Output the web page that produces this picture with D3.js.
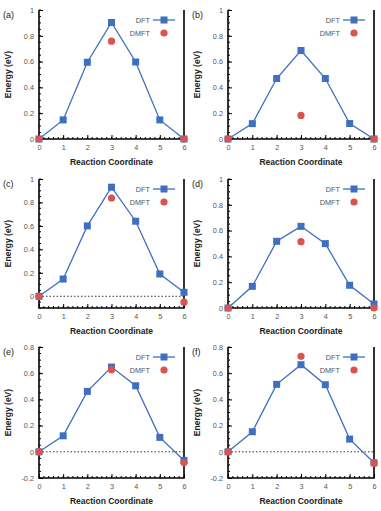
<!DOCTYPE html>
<html>
<head>
<meta charset="utf-8">
<script src="https://cdn.jsdelivr.net/npm/d3@7"></script>
<style>
body { margin: 0; background: #fff; }
svg text { font-family: "Liberation Sans", Arial, sans-serif; }
</style>
</head>
<body>
<div id="chart"></div>
<script>
// data
var coords = [0, 1, 2, 3, 4, 5, 6];
var panelLabels = ["(a)", "(b)", "(c)", "(d)", "(e)", "(f)"];
var dftA = [0, 0.148, 0.595, 0.903, 0.597, 0.148, 0];
var dftB = [0, 0.119, 0.469, 0.686, 0.469, 0.12, 0];
var dftC = [0, 0.147, 0.6, 0.93, 0.64, 0.19, 0.034];
var dftD = [0, 0.168, 0.517, 0.633, 0.499, 0.176, 0.031];
var dftE = [0, 0.122, 0.461, 0.647, 0.504, 0.11, -0.066];
var dftF = [0, 0.153, 0.515, 0.665, 0.512, 0.097, -0.084];
var dmftX = [0, 3, 6];
var dmftA = [0, 0.758, 0];
var dmftB = [0, 0.183, 0];
var dmftC = [0, 0.838, -0.05];
var dmftD = [0, 0.514, 0];
var dmftE = [0, 0.627, -0.082];
var dmftF = [0, 0.729, -0.087];
var yDomains = [[0, 1], [0, 1], [-0.1, 1], [0, 1], [-0.2, 0.8], [-0.2, 0.8]];
var zeroLine = [false, false, true, false, true, true];

var dftAll = [dftA, dftB, dftC, dftD, dftE, dftF];
var dmftAll = [dmftA, dmftB, dmftC, dmftD, dmftE, dmftF];

var blue = "#3f6fbf", red = "#d9534f";
var W = 381, H = 511;
var colX = [[39, 184], [228, 374]];
var rowY = [[10, 139], [179, 308], [347, 478]];

var svg = d3.select("#chart").append("svg")
    .attr("width", W).attr("height", H);

function fmt(d) { return String(+d.toFixed(1)); }

for (let i = 0; i < 6; i++) {
    let col = i % 2, row = Math.floor(i / 2);
    let x = d3.scaleLinear().domain([0, 6]).range(colX[col]);
    let y = d3.scaleLinear().domain(yDomains[i]).range([rowY[row][1], rowY[row][0]]);
    let g = svg.append("g");
    let x0 = colX[col][0], x1 = colX[col][1];
    let yb = rowY[row][1], yt = rowY[row][0];

    // minor ticks
    let xMinor = d3.range(0, 6.001, 0.2);
    g.selectAll(".xm").data(xMinor).enter().append("line")
        .attr("x1", d => x(d)).attr("x2", d => x(d))
        .attr("y1", yb).attr("y2", yb - 2)
        .attr("stroke", "#000").attr("stroke-width", 1);
    let yd = yDomains[i];
    let yMinor = d3.range(Math.round(yd[0] * 20), Math.round(yd[1] * 20) + 1).map(v => v / 20);
    g.selectAll(".ym").data(yMinor).enter().append("line")
        .attr("x1", x0).attr("x2", x0 + 2)
        .attr("y1", d => y(d)).attr("y2", d => y(d))
        .attr("stroke", "#000").attr("stroke-width", 1);

    // axes
    let xAxis = d3.axisBottom(x).tickValues(coords).tickSize(-4).tickPadding(6).tickFormat(d3.format("d"));
    let yTicks = d3.range(Math.ceil(yd[0] * 5 - 1e-9), Math.floor(yd[1] * 5 + 1e-9) + 1).map(v => v / 5);
    let yAxis = d3.axisLeft(y).tickValues(yTicks).tickSize(-4).tickPadding(5).tickFormat(fmt);
    let gx = g.append("g").attr("transform", "translate(0," + yb + ")").call(xAxis);
    let gy = g.append("g").attr("transform", "translate(" + x0 + ",0)").call(yAxis);
    [gx, gy].forEach(function (a) {
        a.select(".domain").remove();
        a.selectAll(".tick line").attr("stroke", "#000").attr("stroke-width", 1);
        a.selectAll("text").attr("font-size", 7.3).attr("fill", "#555");
    });

    // frame: left, bottom, right
    g.append("path")
        .attr("d", "M" + x0 + "," + yt + "V" + yb + "H" + x1 + "V" + yt)
        .attr("fill", "none").attr("stroke", "#000").attr("stroke-width", 1.6);

    if (zeroLine[i]) {
        g.append("line")
            .attr("x1", x(0)).attr("x2", x(6))
            .attr("y1", y(0)).attr("y2", y(0))
            .attr("stroke", "#333").attr("stroke-width", 1)
            .attr("stroke-dasharray", "1.5,2");
    }

    // DFT line + squares
    let pts = coords.map((c, k) => [c, dftAll[i][k]]);
    g.append("path").datum(pts)
        .attr("d", d3.line().x(d => x(d[0])).y(d => y(d[1])))
        .attr("fill", "none").attr("stroke", blue).attr("stroke-width", 1.3);
    g.selectAll(".sq").data(pts).enter().append("rect")
        .attr("x", d => x(d[0]) - 3.5).attr("y", d => y(d[1]) - 3.5)
        .attr("width", 7).attr("height", 7).attr("fill", blue);

    // DMFT circles
    g.selectAll(".ci").data(dmftX.map((c, k) => [c, dmftAll[i][k]])).enter().append("circle")
        .attr("cx", d => x(d[0])).attr("cy", d => y(d[1]))
        .attr("r", 3.6).attr("fill", red);

    // legend
    let lx = x1 - 34, ly = yt + 10;
    g.append("text").attr("x", lx).attr("y", ly + 2.5).attr("text-anchor", "end")
        .attr("font-size", 7.3).attr("fill", "#555").text("DFT");
    g.append("line").attr("x1", lx + 3).attr("x2", lx + 25).attr("y1", ly).attr("y2", ly)
        .attr("stroke", blue).attr("stroke-width", 1.3);
    g.append("rect").attr("x", lx + 14 - 3.5).attr("y", ly - 3.5)
        .attr("width", 7).attr("height", 7).attr("fill", blue);
    g.append("text").attr("x", lx).attr("y", ly + 15.5).attr("text-anchor", "end")
        .attr("font-size", 7.3).attr("fill", "#555").text("DMFT");
    g.append("circle").attr("cx", lx + 14).attr("cy", ly + 13).attr("r", 3.6).attr("fill", red);

    // titles
    g.append("text").attr("x", (x0 + x1) / 2).attr("y", yb + 26)
        .attr("text-anchor", "middle").attr("font-size", 8.5).attr("font-weight", "bold")
        .attr("fill", "#222").text("Reaction Coordinate");
    g.append("text")
        .attr("transform", "translate(" + (x0 - 28) + "," + ((yt + yb) / 2) + ") rotate(-90)")
        .attr("text-anchor", "middle").attr("font-size", 8.5).attr("font-weight", "bold")
        .attr("fill", "#222").text("Energy (eV)");
    g.append("text").attr("x", x0 - 36).attr("y", yt + 8)
        .attr("font-size", 9).attr("fill", "#222").text(panelLabels[i]);
}
</script>
</body>
</html>
